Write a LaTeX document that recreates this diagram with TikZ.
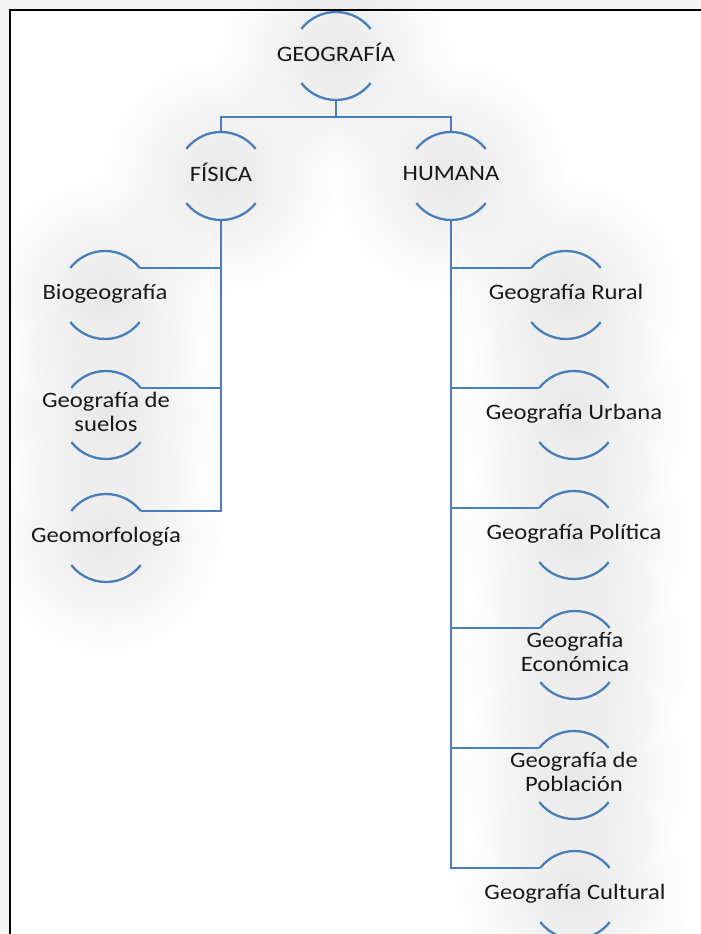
\documentclass[tikz,border=0pt]{standalone}
\usepackage{fontspec}
\setmainfont[FakeStretch=1.12]{Carlito}
\usetikzlibrary{fadings}

\definecolor{smartblue}{RGB}{74,126,187}
\tikzfading[name=halo, inner color=transparent!0, outer color=transparent!100]
\newcommand{\topictext}[1]{\raisebox{-1.5pt}{\makebox[0pt]{\begin{tabular}{@{}c@{}}#1\end{tabular}}}}

\begin{document}
\begin{tikzpicture}[x=1pt,y=1pt]
	\tikzstyle{topic}=[circle,minimum size=88pt,inner sep=0pt,outer sep=0pt,text=black!90,font=\fontsize{22}{24}\selectfont]
	\tikzstyle{rim}=[draw=smartblue,line width=2.3pt]
	\tikzstyle{link}=[draw=smartblue,line width=2.6pt]
	
	\useasboundingbox (0,0) rectangle (701,934);
	\fill[black!4] (0,0) rectangle (701,934);
	\fill[white] (10,0) rectangle (701,924);
	
	% soft halos
	\foreach \x/\y in {336/878, 221/758, 451/758, 105/639, 106/519, 106/396, 566/639, 574/519, 574/399, 575/279, 574/159, 575/39}
	\fill[black!9,path fading=halo] (\x,\y) circle (115);
	
	\draw[black,line width=1.5pt] (10,0) -- (10,924) -- (701,924);
	
	\foreach \name/\x/\y/\txt in {geo/336/878/{GEOGRAFÍA}, fis/221/758/{FÍSICA}, hum/451/758/{HUMANA},
		bio/105/639/{Biogeografía}, sue/106/519/{Geografía de\\suelos}, mor/106/396/{Geomorfología},
		rur/566/639/{Geografía Rural}, urb/574/519/{Geografía Urbana}, pol/574/399/{Geografía Política},
		eco/575/279/{Geografía\\Económica}, pob/574/159/{Geografía de\\Población}, cul/575/39/{Geografía Cultural}}
	\node[topic] (N-\name) at (\x,\y) {\topictext{\txt}};
	
	\foreach \name in {geo,fis,hum,bio,sue,mor,rur,urb,pol,eco,pob,cul}
	{
	\draw[rim] (N-\name.38) arc[start angle=38,end angle=142,radius=44];
	\draw[rim] (N-\name.218) arc[start angle=218,end angle=322,radius=44];
	}
	
	\foreach \to in {fis,hum}
	\draw[link] (N-geo.south) -- ++(0,-17) -| (N-\to.north);
	
	\foreach \to in {bio,sue,mor}
	\draw[link] (N-fis.south) |- (N-\to.38);
	
	\foreach \to in {rur,urb,pol,eco,pob,cul}
	\draw[link] (N-hum.south) |- (N-\to.142);
	
\end{tikzpicture}
\end{document}
